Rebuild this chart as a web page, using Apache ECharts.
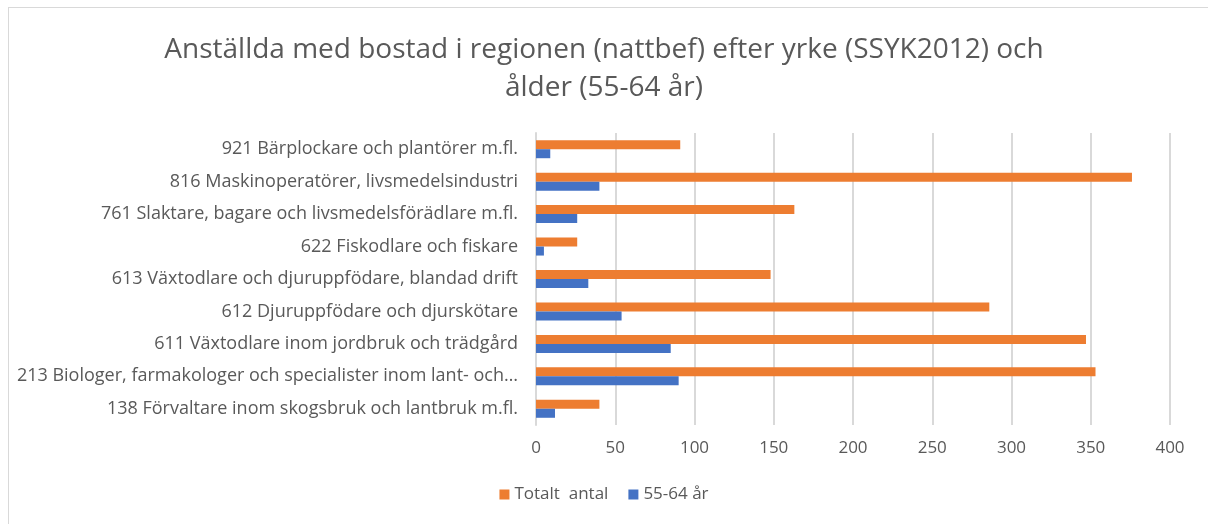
<!DOCTYPE html>
<html lang="sv">
<head>
<meta charset="UTF-8">
<title>Anställda 55-64 år</title>
<style>
  html, body { margin: 0; padding: 0; background: #fff; }
  #frame { position: absolute; left: 8px; top: 7px; width: 1220px; height: 540px; border: 1px solid #d9d9d9; box-sizing: border-box; }
  #main { position: absolute; left: 0; top: 0; width: 1208px; height: 524px; }
</style>
</head>
<body>
<div id="frame"></div>
<div id="main"></div>
<script src="https://cdn.jsdelivr.net/npm/echarts@6/dist/echarts.min.js"></script>
<script>
// kategorier nedifrån och upp (ECharts ritar första kategorin längst ner)
var categories = [
  '138 Förvaltare inom skogsbruk och lantbruk m.fl.',
  '213 Biologer, farmakologer och specialister inom lant- och…',
  '611 Växtodlare inom jordbruk och trädgård',
  '612 Djuruppfödare och djurskötare',
  '613 Växtodlare och djuruppfödare, blandad drift',
  '622 Fiskodlare och fiskare',
  '761 Slaktare, bagare och livsmedelsförädlare m.fl.',
  '816 Maskinoperatörer, livsmedelsindustri',
  '921 Bärplockare och plantörer m.fl.'
];
var totalt = [40, 353, 347, 286, 148, 26, 163, 376, 91];
var age5564 = [12, 90, 85, 54, 33, 5, 26, 40, 9];

var font = 'Open Sans';
var chart = echarts.init(document.getElementById('main'));
chart.setOption({
  animation: false,
  title: {
    text: 'Anställda med bostad i regionen (nattbef) efter yrke (SSYK2012) och\nålder (55-64 år)',
    left: 'center',
    top: 26,
    textStyle: { fontFamily: font, fontSize: 28, fontWeight: 'normal', color: '#595959', lineHeight: 38 }
  },
  legend: {
    data: ['Totalt  antal', '55-64 år'],
    bottom: 16,
    left: 'center',
    itemWidth: 10,
    itemHeight: 10,
    itemGap: 20,
    icon: 'rect',
    textStyle: { fontFamily: font, fontSize: 17, color: '#595959' }
  },
  grid: { left: 536, right: 38, top: 133, bottom: 99, containLabel: false },
  xAxis: {
    type: 'value',
    min: 0, max: 400, interval: 50,
    axisLine: { show: false },
    axisTick: { show: false },
    axisLabel: { fontFamily: font, fontSize: 17, color: '#595959', margin: 15 },
    splitLine: { lineStyle: { color: '#d9d9d9', width: 2 } }
  },
  yAxis: {
    type: 'category',
    data: categories,
    axisLine: { lineStyle: { color: '#d9d9d9', width: 2 } },
    axisTick: { show: false },
    axisLabel: { fontFamily: font, fontSize: 18, color: '#595959', margin: 18 }
  },
  series: [
    {
      name: 'Totalt  antal', type: 'bar', data: totalt,
      barWidth: 9, barGap: '0%',
      itemStyle: { color: '#ED7D31' }
    },
    {
      name: '55-64 år', type: 'bar', data: age5564,
      barWidth: 9, barGap: '0%',
      itemStyle: { color: '#4472C4' }
    }
  ]
});
</script>
</body>
</html>
